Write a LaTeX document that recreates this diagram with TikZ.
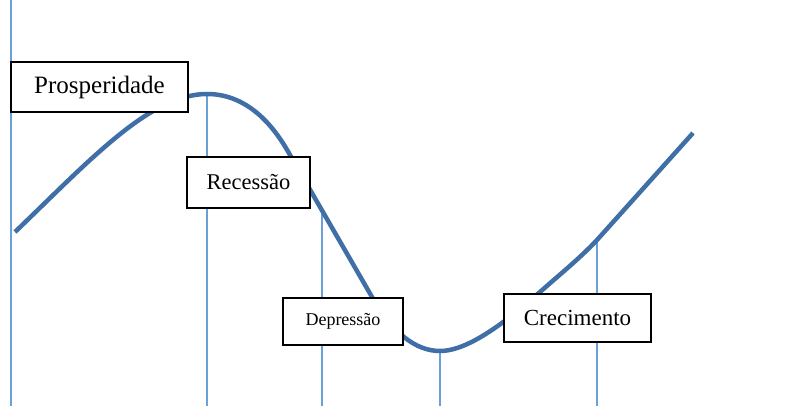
\documentclass[tikz,border=0pt]{standalone}
\usepackage{fontspec}
\setmainfont{Liberation Serif}
\definecolor{curveblue}{HTML}{3F6FA6}
\definecolor{guideblue}{HTML}{6A9FD8}
\begin{document}
\begin{tikzpicture}[x=1pt,y=-1pt,
  phase/.style={draw=black,line width=1.2pt,fill=white,inner sep=0pt,anchor=center},
  guide/.style={draw=guideblue,line width=1.3pt},
  cycle/.style={draw=curveblue,line width=4.5pt,line join=round}]
\useasboundingbox[fill=white] (0,0) rectangle (798,406);
% guide lines
\coordinate (l0t) at (11,0);   \coordinate (l0b) at (11,406);
\coordinate (p1) at (207,94);  \coordinate (b1) at (207,406);
\coordinate (p2) at (322,210); \coordinate (b2) at (322,406);
\coordinate (p3) at (440,351); \coordinate (b3) at (440,406);
\coordinate (p4) at (597,240); \coordinate (b4) at (597,406);
\draw[guide] (l0t) -- (l0b);
\draw[guide] (p1) -- (b1);
\draw[guide] (p2) -- (b2);
\draw[guide] (p3) -- (b3);
\draw[guide] (p4) -- (b4);
% curve
\coordinate (c0) at (15,232);
\coordinate (c1) at (290,155);
\coordinate (c2) at (372,297);
\coordinate (c3) at (540,292);
\coordinate (c4) at (693,133);
\draw[cycle] (c0) .. controls (90,160) and (150,94) .. (p1)
  .. controls (240,94) and (268,115) .. (c1)
  -- (c2)
  .. controls (392,332) and (415,351) .. (p3)
  .. controls (470,351) and (510,318) .. (c3)
  .. controls (565,270) and (580,258) .. (p4)
  -- (c4);
% boxes
\node[phase,minimum width=177pt,minimum height=50pt] (pros) at (99.5,87)
  {\fontsize{25}{28}\selectfont Prosperidade};
\node[phase,minimum width=123pt,minimum height=51pt] (rec) at (248.5,182.5)
  {\fontsize{22.5}{26}\selectfont Recessão};
\node[phase,minimum width=120pt,minimum height=47pt] (dep) at (343,321.5)
  {\fontsize{18}{21}\selectfont Depressão};
\node[phase,minimum width=147pt,minimum height=48pt] (cre) at (577.5,318)
  {\fontsize{23}{26}\selectfont Crecimento};
\end{tikzpicture}
\end{document}
